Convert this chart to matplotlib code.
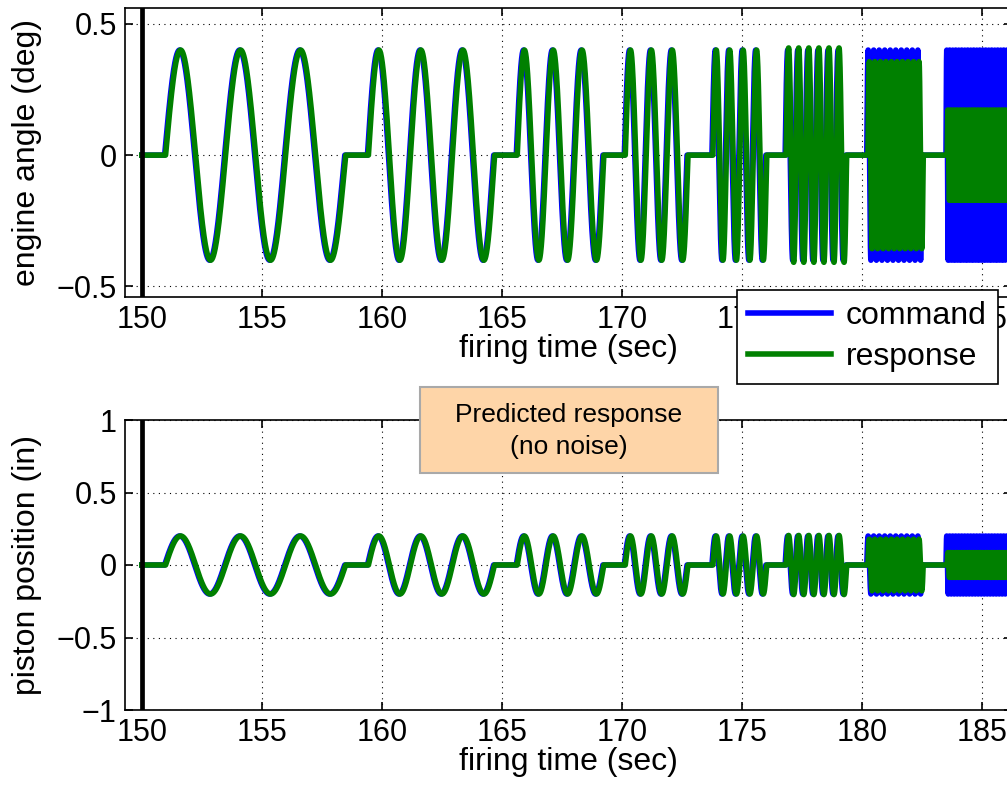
import matplotlib
matplotlib.use('Agg')
import matplotlib.pyplot as plt
from matplotlib.patches import Rectangle
import numpy as np

plt.rcParams['font.family'] = ['Liberation Sans', 'DejaVu Sans']

# sine-dwell segments
seg_start = [150.95, 159.4, 165.6, 170.1, 173.75, 176.8, 180.2, 183.5]  # sec
seg_cycles = [3, 3, 3, 3, 4, 6, 10, 24]
seg_period = [2.5, 1.75, 1.2, 0.87, 0.56, 0.42, 0.23, 0.125]  # sec
resp_gain = [1.0, 1.0, 1.0, 1.0, 1.0, 1.02, 0.89, 0.43]
resp_lag = [0.04, 0.04, 0.04, 0.04, 0.04, 0.04, 0.05, 0.05]  # sec

angle_amp = 0.4   # deg
piston_amp = 0.2  # in

t_first, t_last = 150.0, 186.6
xticks = [150, 155, 160, 165, 170, 175, 180, 185]


def dwell(t, amp, gain=None, lag=None):
    y = np.zeros_like(t)
    for i in range(len(seg_start)):
        g = 1.0 if gain is None else gain[i]
        d = 0.0 if lag is None else lag[i]
        t0 = seg_start[i] + d
        t1 = t0 + seg_cycles[i] * seg_period[i]
        on = (t >= t0) & (t <= t1)
        y[on] = amp * g * np.sin(2 * np.pi * (t[on] - t0) / seg_period[i])
    return y


t = np.arange(t_first, t_last, 0.002)

fig = plt.figure(figsize=(10.07, 7.87), dpi=100)
ax1 = fig.add_axes([125/1007, 1-297/787, 887/1007, 289/787])
ax2 = fig.add_axes([125/1007, 1-710/787, 887/1007, 290/787])

panels = [(ax1, angle_amp, 'engine angle (deg)', (-0.54, 0.56), [-0.5, 0, 0.5], ['\u22120.5', '0', '0.5']),
          (ax2, piston_amp, 'piston position (in)', (-1, 1), [-1, -0.5, 0, 0.5, 1],
           ['\u22121', '\u22120.5', '0', '0.5', '1'])]

for ax, amp, lab, ylim, yt, ytl in panels:
    ax.plot(t, dwell(t, amp), color=(0, 0, 1), lw=4.0, label='command', solid_joinstyle='round')
    ax.plot(t, dwell(t, amp, resp_gain, resp_lag), color=(0, 0.5, 0), lw=4.0, label='response',
            solid_joinstyle='round')
    ax.axvline(150.0, color='black', lw=3.4)
    ax.set_xlim(149.3, 186.25)
    ax.set_ylim(*ylim)
    ax.set_xticks(xticks)
    ax.set_yticks(yt)
    ax.set_yticklabels(ytl)
    ax.grid(True, color='black', linestyle=(0, (1, 4)), lw=0.8)
    ax.tick_params(direction='in', length=6, width=1.2, top=True, right=True, labelsize=22, pad=6)
    ax.set_xlabel('firing time (sec)', fontsize=23, labelpad=-1)
    ax.set_ylabel(lab, fontsize=23)
    ax.yaxis.set_label_coords(-0.094, 0.5)
    for s in ax.spines.values():
        s.set_linewidth(1.2)

leg = ax1.legend(loc='upper left', bbox_to_anchor=(737/1007, 1-290/787), bbox_transform=fig.transFigure,
                 fontsize=23, fancybox=False, framealpha=1, edgecolor='black', handlelength=2.6,
                 borderpad=0.35, labelspacing=0.35, handletextpad=0.45, borderaxespad=0)
leg.get_frame().set_linewidth(1.2)
for h in leg.get_lines():
    h.set_linewidth(4)

fig.patches.append(Rectangle((420/1007, 1-473/787), 298/1007, 86/787, transform=fig.transFigure,
                             facecolor='#FED5A8', edgecolor='#A9A9A9', lw=1.5, zorder=3))
fig.text(569/1007, 1-431/787, 'Predicted response\n(no noise)', ha='center', va='center',
         fontsize=19, linespacing=1.45, zorder=4)

plt.savefig('out.png', dpi=100)
